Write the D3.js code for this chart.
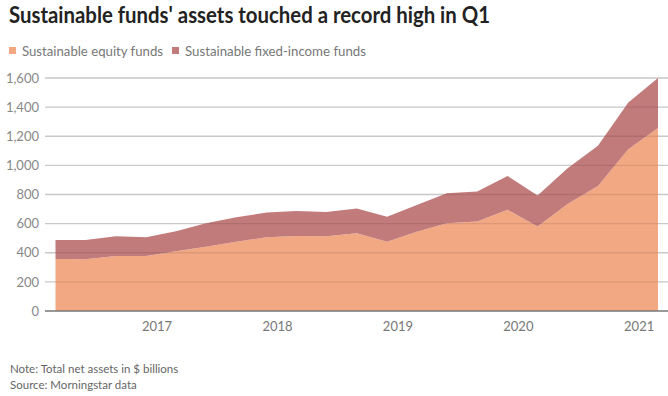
<!DOCTYPE html>
<html>
<head>
<meta charset="utf-8">
<script src="https://cdn.jsdelivr.net/npm/d3@7"></script>
<style>
  body { margin: 0; background: #fff; }
  svg { display: block; font-family: Lato, "Noto Sans", sans-serif; }
</style>
</head>
<body>
<div id="chart"></div>
<script>
// quarter-end dates, Q1 2016 - Q1 2021
const quarters = ["2016-03-31", "2016-06-30", "2016-09-30", "2016-12-31",
    "2017-03-31", "2017-06-30", "2017-09-30", "2017-12-31",
    "2018-03-31", "2018-06-30", "2018-09-30", "2018-12-31",
    "2019-03-31", "2019-06-30", "2019-09-30", "2019-12-31",
    "2020-03-31", "2020-06-30", "2020-09-30", "2020-12-31",
    "2021-03-31"];
// $ billions
const equity = [357, 355, 378, 378, 410, 442, 476, 506, 515, 513, 534, 476,
    545, 603, 614, 695, 580, 735, 859, 1111, 1256];
const fixedIncome = [131, 132, 136, 129, 137, 161, 168, 170, 171, 166, 170, 172,
    183, 206, 206, 232, 213, 246, 275, 321, 344];
const seriesNames = ["Sustainable equity funds", "Sustainable fixed-income funds"];
const seriesColors = ["#f2a883", "#c27b7b"];
const yTicks = [0, 200, 400, 600, 800, 1000, 1200, 1400, 1600];
const yearTicks = ["2017", "2018", "2019", "2020", "2021"];

const width = 668, height = 396;
const margin = {top: 78, right: 0, bottom: 85, left: 45};
const plotW = width - margin.left - margin.right;
const plotH = height - margin.top - margin.bottom;

const parse = d3.timeParse("%Y-%m-%d");
const rows = quarters.map((q, i) => ({
    date: parse(q),
    equity: equity[i],
    fixed: fixedIncome[i]
}));

const svg = d3.select("#chart")
    .append("svg")
    .attr("width", width)
    .attr("height", height);

// title
svg.append("text")
    .attr("x", 9)
    .attr("y", 23)
    .attr("textLength", 481)
    .attr("lengthAdjust", "spacingAndGlyphs")
    .style("font-size", "23px")
    .style("font-weight", 700)
    .style("fill", "#222")
    .text("Sustainable funds' assets touched a record high in Q1");

// legend
const legendX = [9, 172];
const legendW = [141, 181];
seriesNames.forEach((name, i) => {
    svg.append("rect")
        .attr("x", legendX[i])
        .attr("y", 47)
        .attr("width", 7)
        .attr("height", 7)
        .attr("fill", seriesColors[i]);
    svg.append("text")
        .attr("x", legendX[i] + 13)
        .attr("y", 56)
        .attr("textLength", legendW[i])
        .attr("lengthAdjust", "spacingAndGlyphs")
        .style("font-size", "14px")
        .style("fill", "#777")
        .text(name);
});

const g = svg.append("g")
    .attr("transform", `translate(${margin.left}, ${margin.top})`);

const x = d3.scaleTime()
    .domain(d3.extent(rows, d => d.date))
    .range([10.5, 613]);

const y = d3.scaleLinear()
    .domain([0, 1600])
    .range([plotH, 0]);

const stack = d3.stack().keys(["equity", "fixed"]);
const layers = stack(rows);

const area = d3.area()
    .x(d => x(d.data.date))
    .y0(d => y(d[0]))
    .y1(d => y(d[1]));

// light grid underneath
g.append("g")
    .selectAll("line")
    .data(yTicks.slice(1))
    .join("line")
    .attr("x1", 0)
    .attr("x2", plotW)
    .attr("y1", d => y(d))
    .attr("y2", d => y(d))
    .attr("stroke", "#ddd")
    .attr("stroke-width", 1.3);

g.selectAll("path.layer")
    .data(layers)
    .join("path")
    .attr("class", "layer")
    .attr("d", area)
    .attr("fill", (d, i) => seriesColors[i]);

// grid showing through the areas
g.append("g")
    .selectAll("line")
    .data(yTicks.slice(1))
    .join("line")
    .attr("x1", 0)
    .attr("x2", plotW)
    .attr("y1", d => y(d))
    .attr("y2", d => y(d))
    .attr("stroke", "#000")
    .attr("stroke-opacity", 0.09)
    .attr("stroke-width", 1.3);

// y axis labels
const yAxis = g.append("g")
    .call(d3.axisLeft(y)
        .tickValues(yTicks)
        .tickSize(0)
        .tickPadding(6)
        .tickFormat(d3.format(",")));
yAxis.select(".domain").remove();
yAxis.selectAll("text")
    .style("font-family", "Lato, 'Noto Sans', sans-serif")
    .style("font-size", "13px")
    .style("fill", "#888");

// x axis
const xAxis = g.append("g")
    .attr("transform", `translate(0, ${plotH})`)
    .call(d3.axisBottom(x)
        .tickValues(yearTicks.map(t => parse(t + "-01-01")))
        .tickSize(0)
        .tickPadding(11)
        .tickFormat(d3.timeFormat("%Y")));
xAxis.select(".domain").remove();
xAxis.selectAll("text")
    .attr("dx", 10)
    .style("font-family", "Lato, 'Noto Sans', sans-serif")
    .style("font-size", "13px")
    .style("fill", "#777");

g.append("line")
    .attr("x1", 0)
    .attr("x2", plotW)
    .attr("y1", plotH)
    .attr("y2", plotH)
    .attr("stroke", "#777")
    .attr("stroke-width", 1.5);

// footnotes
svg.append("text")
    .attr("x", 10)
    .attr("y", 373)
    .style("font-size", "11.5px")
    .style("fill", "#666")
    .text("Note: Total net assets in $ billions");
svg.append("text")
    .attr("x", 10)
    .attr("y", 389)
    .style("font-size", "11.5px")
    .style("fill", "#666")
    .text("Source: Morningstar data");
</script>
</body>
</html>
